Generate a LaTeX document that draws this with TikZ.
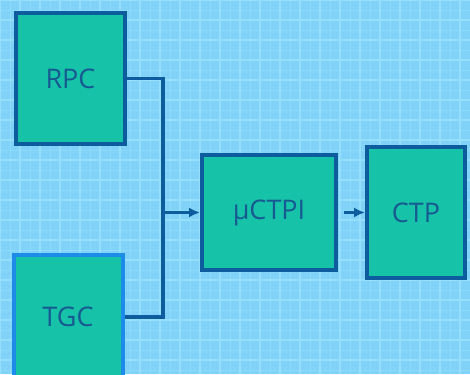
\documentclass[tikz,border=0pt]{standalone}
\usepackage{fontspec}
\setmainfont{Open Sans}
\usetikzlibrary{arrows.meta}
\definecolor{bgblue}{RGB}{128,210,248}
\definecolor{gridblue}{RGB}{150,223,252}
\definecolor{boxfill}{RGB}{22,194,168}
\definecolor{edgeblue}{RGB}{12,92,158}
\definecolor{edgelight}{RGB}{28,140,232}
\definecolor{textblue}{RGB}{22,90,145}
\tikzset{
  block/.style={draw=edgeblue, line width=4pt, fill=boxfill, text=textblue,
    font=\fontsize{27}{30}\selectfont, inner sep=0pt},
  link/.style={draw=edgeblue, line width=3.2pt},
}
\begin{document}
\begin{tikzpicture}[x=1pt,y=-1pt]
\clip (0,0) rectangle (470,374);
\fill[bgblue] (0,0) rectangle (470,374);
\draw[gridblue!60!bgblue, line width=0.8pt, step=10pt] (0,0) grid (470,374);
\draw[gridblue, line width=1.2pt, step=20pt] (0,0) grid (470,374);
\node[block, minimum width=109pt, minimum height=131pt] (RPC) at (70.5,78.5) {RPC};
\node[block, draw=edgelight, minimum width=109pt, minimum height=124pt] (TGC) at (68,317) {TGC};
\node[block, minimum width=134pt, minimum height=115pt] (uCTPI) at (269,212.5) {µCTPI};
\node[block, minimum width=98pt, minimum height=131pt] (CTP) at (416,212.5) {CTP};
\coordinate (J) at (163,212.5);
\draw[link] (RPC.east) -| (J);
\draw[link] (TGC.east) -| (J);
\draw[link,-{Latex[length=11pt,width=10pt]}] (J) -- (uCTPI.west);
\draw[link,-{Latex[length=11pt,width=10pt]},shorten <=6pt] (uCTPI.east) -- (CTP.west);
\end{tikzpicture}
\end{document}
